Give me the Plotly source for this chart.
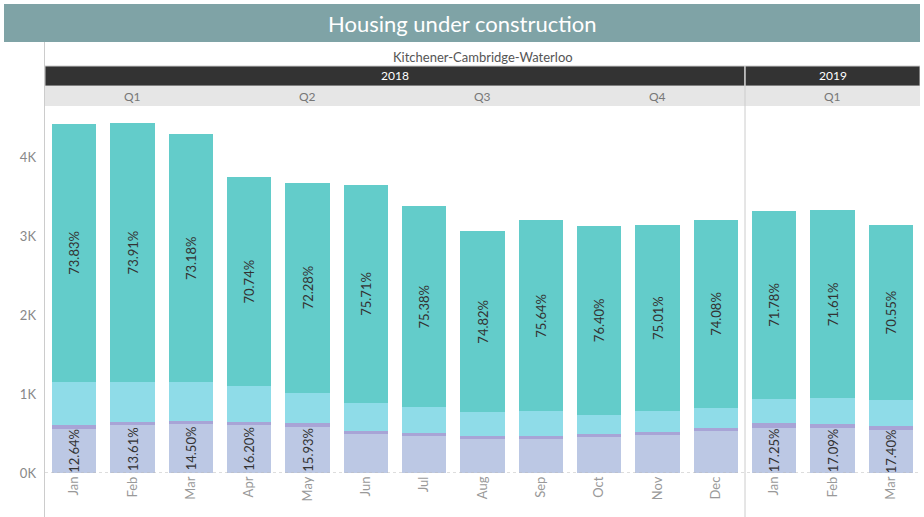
import plotly.graph_objects as go

months = ["Jan", "Feb", "Mar", "Apr", "May", "Jun", "Jul", "Aug", "Sep", "Oct", "Nov", "Dec", "Jan", "Feb", "Mar"]
years = ["2018"] * 12 + ["2019"] * 3
quarters = ["Q1", "Q2", "Q3", "Q4", "Q1"]
year_labels = ["2018", "2019"]

# stacked segments (units), bottom to top
seg_bottom = [559, 603, 622, 608, 586, 494, 468, 430, 430, 456, 481, 532, 573, 569, 546]
seg_purple = [50, 40, 38, 40, 50, 38, 38, 38, 38, 38, 38, 38, 63, 50, 50]
seg_cyan = [548, 513, 491, 449, 384, 355, 326, 303, 312, 245, 266, 259, 301, 326, 329]
seg_teal = [3263, 3274, 3139, 2653, 2660, 2763, 2548, 2289, 2420, 2391, 2355, 2371, 2383, 2385, 2215]

teal_pct = ["73.83%", "73.91%", "73.18%", "70.74%", "72.28%", "75.71%", "75.38%", "74.82%",
            "75.64%", "76.40%", "75.01%", "74.08%", "71.78%", "71.61%", "70.55%"]
bottom_pct = ["12.64%", "13.61%", "14.50%", "16.20%", "15.93%", "", "", "", "", "", "", "",
              "17.25%", "17.09%", "17.40%"]

x = list(range(len(months)))

W, H = 924, 517
ml, mr, mt, mb = 45, 4, 106, 44
pw = W - ml - mr
ph = H - mt - mb

def py(ypix):
    return (H - mb - ypix) / ph

def px(xpix):
    return (xpix - ml) / pw

fig = go.Figure()
common = dict(x=x, width=0.755, hoverinfo="skip", marker_line_width=0)
fig.add_trace(go.Bar(y=seg_bottom, marker_color="#bcc8e4", text=bottom_pct,
                     textposition="inside", insidetextanchor="middle", textangle=-90,
                     constraintext="none",
                     textfont=dict(family="Lato", size=13, color="#333333"), **common))
fig.add_trace(go.Bar(y=seg_purple, marker_color="#a8a4d6", **common))
fig.add_trace(go.Bar(y=seg_cyan, marker_color="#8fdce8", **common))
fig.add_trace(go.Bar(y=seg_teal, marker_color="#63ccca", text=teal_pct,
                     textposition="inside", insidetextanchor="middle", textangle=-90,
                     constraintext="none",
                     textfont=dict(family="Lato", size=13, color="#333333"), **common))

shapes = []
annotations = []

def ann(text, xref, x, y, size, color):
    return dict(text=text, xref=xref, yref="paper", x=x, y=y, showarrow=False,
                xanchor="center", yanchor="middle",
                font=dict(family="Lato", size=size, color=color))

# Title banner
shapes.append(dict(type="rect", xref="paper", yref="paper", x0=px(4), x1=px(920), y0=py(42), y1=py(4),
                   fillcolor="#7fa3a6", line_width=0, layer="below"))
annotations.append(ann("Housing under construction", "paper", px(462), py(23), 22, "white"))
# Subtitle
annotations.append(ann("Kitchener-Cambridge-Waterloo", "paper", 0.5, py(57), 13, "#555555"))

# Year header bars
year_spans = [(-0.5, 11.5), (11.5, 14.5)]
for (a, b), lab in zip(year_spans, year_labels):
    shapes.append(dict(type="rect", xref="x", yref="paper", x0=a, x1=b, y0=py(86), y1=py(66),
                       fillcolor="#333333", line=dict(color="#cccccc", width=1)))
    annotations.append(ann(lab, "x", (a + b) / 2, py(76), 12, "white"))
# Quarter header bars
q_spans = [(-0.5, 2.5), (2.5, 5.5), (5.5, 8.5), (8.5, 11.5), (11.5, 14.5)]
shapes.append(dict(type="rect", xref="paper", yref="paper", x0=0, x1=1, y0=py(106), y1=py(86),
                   fillcolor="#e6e6e6", line_width=0))
for (a, b), lab in zip(q_spans, quarters):
    annotations.append(ann(lab, "x", (a + b) / 2, py(96), 12, "#777777"))

# Left axis line and year separator
shapes.append(dict(type="line", xref="paper", yref="paper", x0=px(44.5), x1=px(44.5), y0=py(517), y1=py(42),
                   line=dict(color="#cccccc", width=1)))
shapes.append(dict(type="line", xref="x", yref="paper", x0=11.5, x1=11.5, y0=py(517), y1=py(66),
                   line=dict(color="#cccccc", width=1)))
# Zero line dotted
shapes.append(dict(type="line", xref="paper", yref="y", x0=0, x1=1, y0=0, y1=0,
                   line=dict(color="#bbbbbb", width=1, dash="dot")))

fig.update_layout(
    width=W, height=H,
    margin=dict(l=ml, r=mr, t=mt, b=mb, pad=0),
    barmode="stack",
    showlegend=False,
    paper_bgcolor="white", plot_bgcolor="white",
    shapes=shapes, annotations=annotations,
    font=dict(family="Lato", color="#888888"),
    xaxis=dict(range=[-0.5, 14.5], tickvals=x, ticktext=months, tickangle=-90,
               showgrid=False, zeroline=False, showline=False, ticks="",
               tickfont=dict(family="Lato", size=13, color="#999999")),
    yaxis=dict(range=[0, 4650], tickvals=[0, 1000, 2000, 3000, 4000],
               ticktext=["0K", "1K", "2K", "3K", "4K"], showgrid=False, zeroline=False,
               showline=False, ticks="", ticklabelstandoff=8,
               tickfont=dict(family="Lato", size=13, color="#888888")),
)

fig.write_html("out.html")
